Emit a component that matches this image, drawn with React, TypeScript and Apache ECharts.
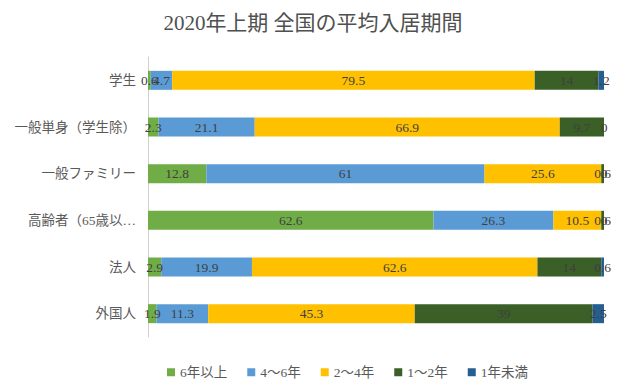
import React, { useEffect, useRef } from "react";
import * as echarts from "echarts";

const categories = ["学生", "一般単身（学生除）", "一般ファミリー", "高齢者（65歳以上）", "法人", "外国人"];
const seriesNames = ["6年以上", "4～6年", "2～4年", "1～2年", "1年未満"];
const over6 = [0.6, 2.3, 12.8, 62.6, 2.9, 1.9];
const y4to6 = [4.7, 21.1, 61, 26.3, 19.9, 11.3];
const y2to4 = [79.5, 66.9, 25.6, 10.5, 62.6, 45.3];
const y1to2 = [14, 9.7, 0.6, 0.6, 14, 39];
const under1 = [1.2, 0, 0, 0, 0.6, 2.5];
const colors = ["#70AD47", "#5B9BD5", "#FFC000", "#3A5F27", "#255E91"];

const serif = "'Liberation Serif', 'DejaVu Serif', 'Noto Sans CJK JP', serif";

export default function App() {
  const ref = useRef<HTMLDivElement>(null);
  useEffect(() => {
    document.body.style.margin = "0";
    const chart = echarts.init(ref.current!, null, { renderer: "svg" });
    const data = [over6, y4to6, y2to4, y1to2, under1];
    chart.setOption({
      animation: false,
      backgroundColor: "#ffffff",
      title: {
        text: "2020年上期 全国の平均入居期間",
        left: "center",
        top: 7,
        textStyle: { fontFamily: serif, fontSize: 21, fontWeight: "normal", color: "#505050" },
      },
      legend: {
        bottom: 4,
        left: 162,
        itemWidth: 8,
        itemHeight: 8,
        itemGap: 20,
        icon: "rect",
        textStyle: { fontFamily: serif, fontSize: 13.5, color: "#595959" },
        data: seriesNames,
      },
      grid: { left: 148, right: 22, top: 57, bottom: 51, containLabel: false },
      xAxis: {
        type: "value",
        min: 0,
        max: 100,
        show: false,
        splitLine: { show: false },
      },
      yAxis: {
        type: "category",
        inverse: true,
        data: categories,
        axisTick: { show: false },
        axisLine: { lineStyle: { color: "#D0D0D0" } },
        axisLabel: {
          fontFamily: serif,
          fontSize: 13.5,
          color: "#595959",
          margin: 12,
          formatter: (v: string) => (v.length > 9 ? v.slice(0, 8) + "…" : v),
        },
      },
      series: seriesNames.map((name, i) => ({
        name,
        type: "bar",
        stack: "total",
        barWidth: 19,
        data: data[i],
        itemStyle: { color: colors[i] },
        label: {
          show: true,
          position: "inside",
          fontFamily: serif,
          fontSize: 13.5,
          color: "#404040",
          formatter: (p: any) => String(p.value),
        },
      })),
    });
    return () => chart.dispose();
  }, []);
  return <div ref={ref} style={{ width: 626, height: 388 }} />;
}
